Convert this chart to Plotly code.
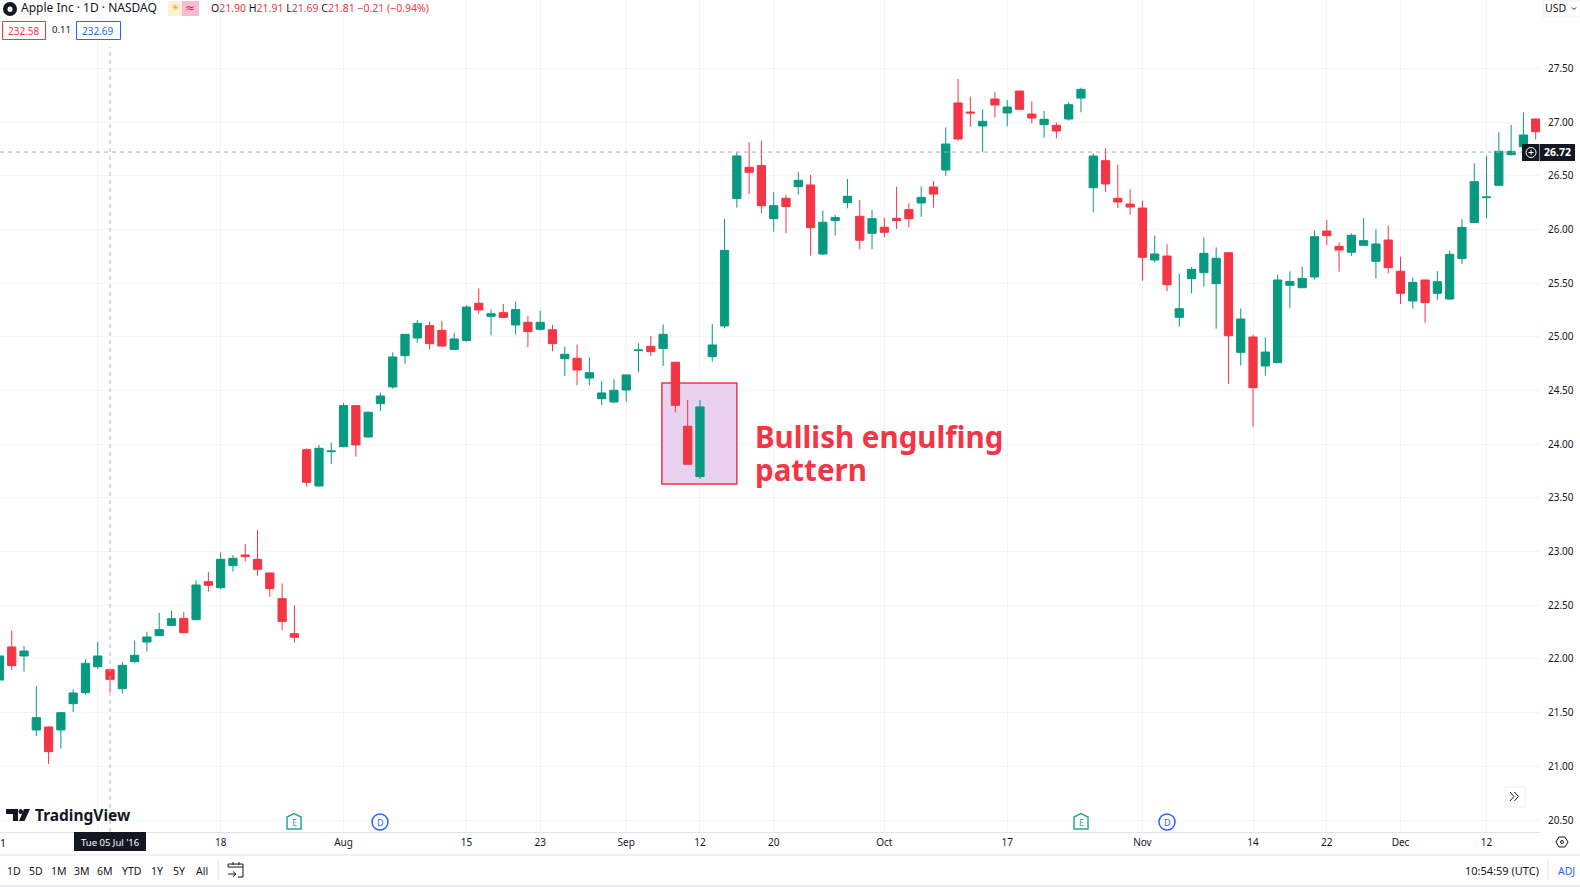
import plotly.graph_objects as go

# prices, one candle per trading day on the chart
OPENS = [21.804, 22.112, 22.028, 21.339, 21.367, 21.339, 21.584, 21.686, 21.928, 21.90,
         21.724, 21.975, 22.158, 22.217, 22.313, 22.378, 22.366, 22.720, 22.664, 22.869,
         22.968, 22.928, 22.801, 22.562, 22.236, 23.949, 23.611, 23.930, 23.977, 24.359,
         24.067, 24.377, 24.533, 24.824, 24.989, 25.104, 25.060, 24.883, 24.964, 25.312,
         25.191, 25.225, 25.110, 25.135, 25.070, 25.066, 24.796, 24.800, 24.616, 24.424,
         24.393, 24.505, 24.871, 24.912, 24.890, 24.763, 24.167, 23.698, 24.815, 25.101,
         26.287, 26.578, 26.594, 26.100, 26.290, 26.398, 26.414, 25.771, 26.082, 26.249,
         26.122, 25.964, 26.020, 26.103, 26.184, 26.246, 26.395, 26.553, 27.177, 27.093,
         26.963, 27.214, 27.084, 27.288, 27.074, 26.975, 26.969, 27.028, 27.223, 26.388,
         26.640, 26.289, 26.236, 26.199, 25.715, 25.752, 25.181, 25.541, 25.597, 25.495,
         25.783, 24.855, 24.998, 24.728, 24.759, 25.479, 25.457, 25.557, 25.985, 25.842,
         25.787, 25.852, 25.703, 25.901, 25.610, 25.333, 25.529, 25.405, 25.352, 25.728,
         26.063, 26.296, 26.410, 26.696, 26.770, 27.028]
HIGHS = [22.05, 22.264, 22.121, 21.748, 21.370, 21.506, 21.717, 21.997, 22.161, 21.91,
         21.972, 22.170, 22.254, 22.431, 22.450, 22.437, 22.732, 22.810, 22.993, 22.965,
         23.071, 23.201, 22.804, 22.704, 22.499, 23.962, 23.993, 24.014, 24.381, 24.36,
         24.306, 24.480, 24.855, 25.026, 25.156, 25.141, 25.150, 25.039, 25.293, 25.451,
         25.256, 25.305, 25.327, 25.194, 25.243, 25.110, 24.908, 24.927, 24.809, 24.588,
         24.604, 24.645, 24.940, 25.008, 25.116, 24.763, 24.412, 24.412, 25.120, 26.097,
         26.718, 26.811, 26.827, 26.346, 26.321, 26.535, 26.507, 26.175, 26.134, 26.470,
         26.274, 26.181, 26.110, 26.398, 26.243, 26.401, 26.450, 26.950, 27.400, 27.236,
         27.118, 27.279, 27.205, 27.29, 27.192, 27.102, 26.994, 27.183, 27.320, 26.708,
         26.755, 26.603, 26.373, 26.267, 25.942, 25.864, 25.588, 25.650, 25.926, 25.833,
         25.784, 25.265, 25.020, 24.995, 25.578, 25.609, 25.653, 25.988, 26.088, 25.877,
         25.963, 26.106, 26.001, 26.035, 25.746, 25.551, 25.53, 25.610, 25.802, 26.094,
         26.615, 26.687, 26.904, 26.972, 27.090, 27.03]
LOWS = [21.78, 21.897, 21.882, 21.283, 21.022, 21.165, 21.506, 21.668, 21.907, 21.69,
        21.680, 21.966, 22.068, 22.215, 22.307, 22.24, 22.360, 22.627, 22.648, 22.813,
        22.909, 22.776, 22.580, 22.270, 22.152, 23.605, 23.605, 23.816, 23.971, 23.884,
        24.061, 24.309, 24.517, 24.747, 24.945, 24.883, 24.908, 24.88, 24.958, 25.215,
        25.014, 25.172, 25.023, 24.902, 25.057, 24.865, 24.635, 24.548, 24.548, 24.365,
        24.381, 24.396, 24.670, 24.822, 24.729, 24.297, 23.81, 23.676, 24.769, 25.079,
        26.203, 26.330, 26.150, 25.979, 25.964, 26.324, 25.756, 25.762, 25.942, 26.197,
        25.815, 25.815, 25.927, 26.004, 26.020, 26.118, 26.205, 26.497, 26.826, 26.956,
        26.717, 27.043, 26.959, 27.115, 26.987, 26.854, 26.848, 27.012, 27.090, 26.159,
        26.348, 26.199, 26.137, 25.522, 25.693, 25.426, 25.094, 25.405, 25.467, 25.076,
        24.564, 24.734, 24.163, 24.638, 24.753, 25.265, 25.455, 25.535, 25.855, 25.606,
        25.752, 25.85, 25.544, 25.591, 25.305, 25.262, 25.132, 25.343, 25.343, 25.678,
        26.06, 26.103, 26.404, 26.690, 26.72, 26.839]
CLOSES = [22.028, 21.938, 22.074, 21.454, 21.137, 21.500, 21.683, 21.959, 22.028, 21.81,
          21.941, 22.034, 22.205, 22.273, 22.375, 22.245, 22.689, 22.686, 22.928, 22.937,
          22.956, 22.835, 22.655, 22.350, 22.202, 23.645, 23.962, 23.937, 24.359, 23.993,
          24.297, 24.449, 24.812, 25.023, 25.125, 24.936, 24.914, 24.980, 25.277, 25.250,
          25.215, 25.181, 25.253, 25.048, 25.135, 24.936, 24.837, 24.691, 24.666, 24.477,
          24.502, 24.645, 24.877, 24.862, 25.023, 24.362, 23.813, 24.347, 24.924, 25.805,
          26.684, 26.532, 26.221, 26.221, 26.212, 26.457, 26.017, 26.066, 26.110, 26.308,
          25.899, 26.100, 25.973, 26.082, 26.100, 26.298, 26.329, 26.795, 26.842, 27.084,
          27.006, 27.158, 27.139, 27.118, 27.037, 27.025, 26.916, 27.161, 27.304, 26.683,
          26.423, 26.255, 26.208, 25.740, 25.771, 25.485, 25.262, 25.628, 25.777, 25.731,
          25.010, 25.166, 24.526, 24.858, 25.529, 25.516, 25.544, 25.932, 25.942, 25.808,
          25.945, 25.895, 25.864, 25.644, 25.405, 25.507, 25.318, 25.513, 25.768, 26.019,
          26.444, 26.302, 26.727, 26.727, 26.879, 26.910]

PRICE_TICKS = [20.5, 21.0, 21.5, 22.0, 22.5, 23.0, 23.5, 24.0, 24.5, 25.0, 25.5, 26.0, 26.5, 27.0, 27.5]
DATE_TICK_POS = [8, 18, 28, 38, 44, 51, 57, 63, 72, 82, 93, 102, 108, 114, 121]
DATE_TICK_LABELS = ["", "18", "Aug", "15", "23", "Sep", "12", "20", "Oct", "17", "Nov", "14", "22", "Dec", "12"]
RANGE_BUTTONS = ["1D", "5D", "1M", "3M", "6M", "YTD", "1Y", "5Y", "All"]
RANGE_BUTTON_X = [13.5, 36, 59, 82, 105, 132, 157, 179, 202]
EARNINGS_X = [294, 1081]
DIVIDEND_X = [380, 1167]

W, H = 1580, 887
PLOT_W, PLOT_H = 1540, 832
GREEN = "#089981"
RED = "#F23645"
BLUE = "#2962FF"
INK = "#131722"
GRID = "#F3F4F8"
FONT = "Noto Sans"

fig = go.Figure(go.Candlestick(
    x=list(range(len(OPENS))), open=OPENS, high=HIGHS, low=LOWS, close=CLOSES,
    increasing=dict(line=dict(color=GREEN, width=1), fillcolor=GREEN),
    decreasing=dict(line=dict(color=RED, width=1), fillcolor=RED),
    whiskerwidth=0, showlegend=False, hoverinfo="skip",
))


# paper coords run over the plot area only, so page pixels go through these
def px(x):
    return x / PLOT_W


def py(y):
    return 1 - y / PLOT_H


def label(x, y, text, size=11, color=INK, anchor="center", family=FONT, weight=None):
    if weight:
        text = "<b>%s</b>" % text
    fig.add_annotation(xref="paper", yref="paper", x=px(x), y=py(y), text=text, showarrow=False,
                       xanchor=anchor, yanchor="middle", borderpad=0, borderwidth=0,
                       font=dict(size=size, color=color, family=family))


def box(x0, y0, x1, y1, fill=None, line=None, width=1, kind="rect", layer="above"):
    fig.add_shape(type=kind, xref="paper", yref="paper", x0=px(x0), x1=px(x1), y0=py(y0), y1=py(y1),
                  fillcolor=fill, line=dict(color=line, width=width if line else 0), layer=layer)


def path(points, fill=None, line=None, width=1):
    d = "M " + " L ".join("%.4f,%.4f" % (px(a), py(b)) for a, b in points)
    if fill:
        d += " Z"
    fig.add_shape(type="path", xref="paper", yref="paper", path=d, fillcolor=fill,
                  line=dict(color=line, width=width if line else 0))


# pattern highlight, over the grid and under the candles
fig.add_shape(type="rect", xref="x", yref="y", x0=53.9, x1=60.0, y0=23.63, y1=24.57, layer="between",
              fillcolor="#E8D2EF", line=dict(color=RED, width=1.5))

# crosshair and last price line
fig.add_shape(type="line", xref="x", yref="paper", x0=9, x1=9, y0=0, y1=py(47),
              line=dict(color="#B4B6BE", width=1, dash="4px,4px"))
fig.add_shape(type="line", xref="paper", yref="y", x0=0, x1=px(1522), y0=26.72, y1=26.72,
              line=dict(color="#A8ABB3", width=1, dash="4px,4px"))

label(755, 436, "Bullish engulfing", size=29.5, color=RED, anchor="left", weight=True)
label(755, 469, "pattern", size=29.5, color=RED, anchor="left", weight=True)

# header
box(3, 2, 17, 16, fill=INK, kind="circle")
box(7.5, 6.5, 12.5, 12, fill="#FFFFFF", kind="circle")
label(21, 8, "Apple Inc · 1D · NASDAQ", size=12, anchor="left")
box(168, 1, 199, 16, fill="#FFF1D6", kind="rect")
box(182, 1, 199, 16, fill="#F8BBD0", kind="rect")
label(175, 8, "☀", size=10, color="#F5A623", family="DejaVu Sans")
label(190, 8, "≈", size=12, color="#E91E63", family="DejaVu Sans")
label(211, 8, ("<span style='color:%s'>O</span>21.90 <span style='color:%s'>H</span>21.91 "
               "<span style='color:%s'>L</span>21.69 <span style='color:%s'>C</span>21.81 "
               "−0.21 (−0.94%%)") % (INK, INK, INK, INK), size=10.5, color=RED, anchor="left")
box(2.5, 21.5, 45.5, 39.5, fill="#FFFFFF", line=RED)
label(24, 30.5, "232.58", size=10, color=RED)
label(61, 30, "0.11", size=9.5)
box(76.5, 21.5, 120.5, 39.5, fill="#FFFFFF", line=BLUE)
label(98.5, 30.5, "232.69", size=10, color=BLUE)

# currency selector
box(1543, 0, 1580, 17, fill="#FFFFFF", line="#F0F1F4")
label(1555, 8, "USD", size=10.5)
path([(1572, 7.5), (1574, 9.5), (1576, 7.5)], line=INK)

# last price tag
box(1522, 144, 1539.5, 161, fill=INK)
box(1526, 147.5, 1536, 157.5, line="#FFFFFF", kind="circle")
path([(1528.5, 152.5), (1533.5, 152.5)], line="#FFFFFF")
path([(1531, 150), (1531, 155)], line="#FFFFFF")
box(1540, 144, 1575, 161, fill=INK)
label(1557.5, 152.5, "26.72", size=10.5, color="#FFFFFF", weight=True)

# logo
path([(6, 809), (18, 809), (18, 821), (13, 821), (13, 814), (6, 814)], fill=INK)
box(18.5, 809, 23, 814, fill=INK, kind="circle")
path([(24, 809), (30, 809), (24.5, 821), (19, 821)], fill=INK)
label(35, 815, "TradingView", size=15.5, anchor="left", weight=True)

# earnings and dividend markers
for x in EARNINGS_X:
    path([(x - 7, 817), (x, 813.5), (x + 7, 817), (x + 7, 829), (x - 7, 829)], fill="#FFFFFF", line="#22AB94", width=1.5)
    label(x, 822, "E", size=9, color="#22AB94")
for x in DIVIDEND_X:
    box(x - 8, 814, x + 8, 830, fill="#FFFFFF", line=BLUE, width=1.5, kind="circle")
    label(x, 822, "D", size=9, color=BLUE)

# scroll to latest button
box(1505, 787, 1525, 807, fill="#FFFFFF", line="#EEF0F3")
path([(1510, 792), (1514, 796.5), (1510, 801)], line=INK)
path([(1514.5, 792), (1518.5, 796.5), (1514.5, 801)], line=INK)

# time axis extras
label(0, 843, "1", size=10.5, anchor="left")
box(74, 832, 146, 851, fill=INK)
label(110, 842, "Tue 05 Jul '16", size=9.5, color="#FFFFFF")
path([(1556, 842), (1559, 837), (1565, 837), (1568, 842), (1565, 847), (1559, 847)], fill="#FFFFFF", line=INK)
box(1560.5, 840.5, 1563.5, 843.5, line=INK, kind="circle")

# bottom toolbar
path([(0, 855), (W, 855)], line="#E0E3EB")
box(0, 885, W, H, fill="#E9EBF0")
for name, x in zip(RANGE_BUTTONS, RANGE_BUTTON_X):
    label(x, 870.5, name, size=10.5)
path([(218, 860), (218, 880)], line="#E0E3EB")
path([(228, 867), (228, 864), (243, 864), (243, 877), (238, 877)], line=INK)
path([(228, 867), (243, 867)], line=INK)
path([(228, 874), (236, 874)], line=INK)
path([(233, 871.5), (236, 874), (233, 876.5)], line=INK)
path([(233, 862), (233, 865)], line=INK)
path([(239, 862), (239, 865)], line=INK)
label(1539, 870.5, "10:54:59 (UTC)", size=11, anchor="right")
path([(1548, 860), (1548, 880)], line="#E0E3EB")
label(1566, 870.5, "ADJ", size=10.5, color=BLUE)

fig.update_layout(
    width=W, height=H, autosize=False,
    margin=dict(l=0, r=40, t=0, b=55, pad=0),
    paper_bgcolor="#FFFFFF", plot_bgcolor="#FFFFFF",
    font=dict(family=FONT, color=INK, size=11),
    showlegend=False, hovermode=False,
    boxgap=0.33, boxgroupgap=0,
    xaxis=dict(range=[0.046, 125.35], rangeslider=dict(visible=False), tickmode="array",
               tickvals=DATE_TICK_POS, ticktext=DATE_TICK_LABELS, showgrid=True, gridcolor=GRID, gridwidth=1,
               zeroline=False, showline=True, linecolor="#E0E3EB", linewidth=1,
               ticks="outside", ticklen=1, tickcolor="rgba(0,0,0,0)", tickfont=dict(size=10, color=INK)),
    yaxis=dict(range=[20.389, 28.136], side="right", tickmode="array", tickvals=PRICE_TICKS,
               tickformat=".2f", showgrid=True, gridcolor=GRID, gridwidth=1, zeroline=False, showline=False,
               ticks="outside", ticklen=5, tickcolor="rgba(0,0,0,0)", tickfont=dict(size=10, color=INK)),
)

fig.write_html("out.html", config=dict(displayModeBar=False),
               post_script="document.body.style.margin='0';document.body.style.overflow='hidden';")
